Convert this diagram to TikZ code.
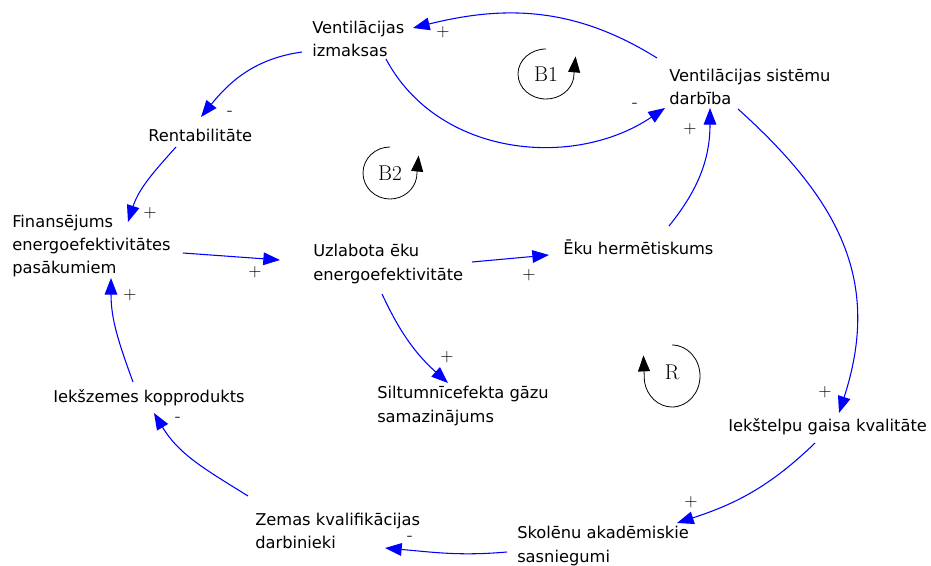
\documentclass[tikz,border=0pt]{standalone}
\usepackage{fontspec}
\newfontfamily\varfont{DejaVu Sans}
\usetikzlibrary{arrows.meta}
\tikzset{
  var/.style={anchor=west,inner sep=0pt,align=left,
    font=\varfont\fontsize{12.2}{17.5}\selectfont},
  cl/.style={blue,line width=0.8pt,-{Triangle[length=12.5pt,width=9.5pt]}},
  sgn/.style={inner sep=0pt,font=\fontsize{13}{13}\selectfont},
  lp/.style={black,line width=0.6pt,-{Triangle[length=12pt,width=9pt]}},
  lpname/.style={inner sep=0pt,font=\fontsize{16}{16}\selectfont}
}

\begin{document}
\begin{tikzpicture}[x=0.75pt,y=0.75pt]
  \useasboundingbox (0,0) rectangle (931,565);

  % variables
  \node (vi) at (312,526) [var] {Ventilācijas\\izmaksas};
  \node (vs) at (669,478) [var] {Ventilācijas sistēmu\\darbība};
  \node (re) at (148,430) [var] {Rentabilitāte};
  \node (fi) at (12,319) [var] {Finansējums\\energoefektivitātes\\pasākumiem};
  \node (uz) at (313,301) [var] {Uzlabota ēku\\energoefektivitāte};
  \node (eh) at (563,318) [var] {Ēku hermētiskums};
  \node (si) at (377,159) [var] {Siltumnīcefekta gāzu\\samazinājums};
  \node (ik) at (53,167) [var] {Iekšzemes kopprodukts};
  \node (ig) at (728,138) [var] {Iekštelpu gaisa kvalitāte};
  \node (ze) at (255,34) [var] {Zemas kvalifikācijas\\darbinieki};
  \node (sk) at (517,19) [var] {Skolēnu akadēmiskie\\sasniegumi};

  % causal links
  \draw[cl] ([shift={(-12,29)}]vs.west) to[out=148,in=14] ([shift={(101,11)}]vi.west);
  \draw[cl] ([shift={(74,-20)}]vi.west) to[out=-62,in=214] ([shift={(-4,-21)}]vs.west);
  \draw[cl] ([shift={(-10,-13)}]vi.west) to[out=188,in=51] ([shift={(53,18)}]re.west);
  \draw[cl] ([shift={(28,-12)}]re.west) to[out=228,in=72] ([shift={(116,24)}]fi.west);
  \draw[cl] ([shift={(171,-7)}]fi.west) -- ([shift={(-33,4)}]uz.west);
  \draw[cl] ([shift={(159,2)}]uz.west) -- ([shift={(-14,-8)}]eh.west);
  \draw[cl] ([shift={(106,21)}]eh.west) to[out=51,in=-90] ([shift={(41,-21)}]vs.west);
  \draw[cl] ([shift={(69,-22)}]vs.west) to[out=-42,in=72,looseness=1.1] ([shift={(111,14)}]ig.west);
  \draw[cl] ([shift={(87,-16)}]ig.west) to[out=224,in=18] ([shift={(160,23)}]sk.west);
  \draw[cl] ([shift={(-10,-6)}]sk.west) to[out=185,in=-5] ([shift={(130,-17)}]ze.west);
  \draw[cl] ([shift={(-7,35)}]ze.west) to[out=148,in=-59] ([shift={(101,-15)}]ik.west);
  \draw[cl] ([shift={(80,16)}]ik.west) to[out=110,in=-90] ([shift={(99,-32)}]fi.west);
  \draw[cl] ([shift={(69,-30)}]uz.west) to[out=-65,in=138] ([shift={(71,23)}]si.west);

  % polarities
  \node (p1) at (443,533) [sgn] {+};
  \node (p2) at (635,460) [sgn] {-};
  \node (p3) at (230,452) [sgn] {-};
  \node (p4) at (150,352) [sgn] {+};
  \node (p5) at (255,293) [sgn] {+};
  \node (p6) at (529,290) [sgn] {+};
  \node (p7) at (690,436) [sgn] {+};
  \node (p8) at (825,173) [sgn] {+};
  \node (p9) at (691,63) [sgn] {+};
  \node (p10) at (410,27) [sgn] {-};
  \node (p11) at (178,146) [sgn] {-};
  \node (p12) at (130,270) [sgn] {+};
  \node (p13) at (447,208) [sgn] {+};

  % loops
  \node (b1) at (546,491) [lpname] {B1};
  \draw[lp] (546,516) arc[start angle=90,end angle=350,x radius=28,y radius=25] -- ++(2,22);
  \node (b2) at (390,392) [lpname] {B2};
  \draw[lp] (390,418) arc[start angle=90,end angle=350,x radius=27,y radius=26] -- ++(2,22);
  \node (r) at (672,193) [lpname] {R};
  \draw[lp] (672,220) arc[start angle=90,end angle=-170,x radius=28,y radius=31] -- ++(-1,26);
\end{tikzpicture}
\end{document}
